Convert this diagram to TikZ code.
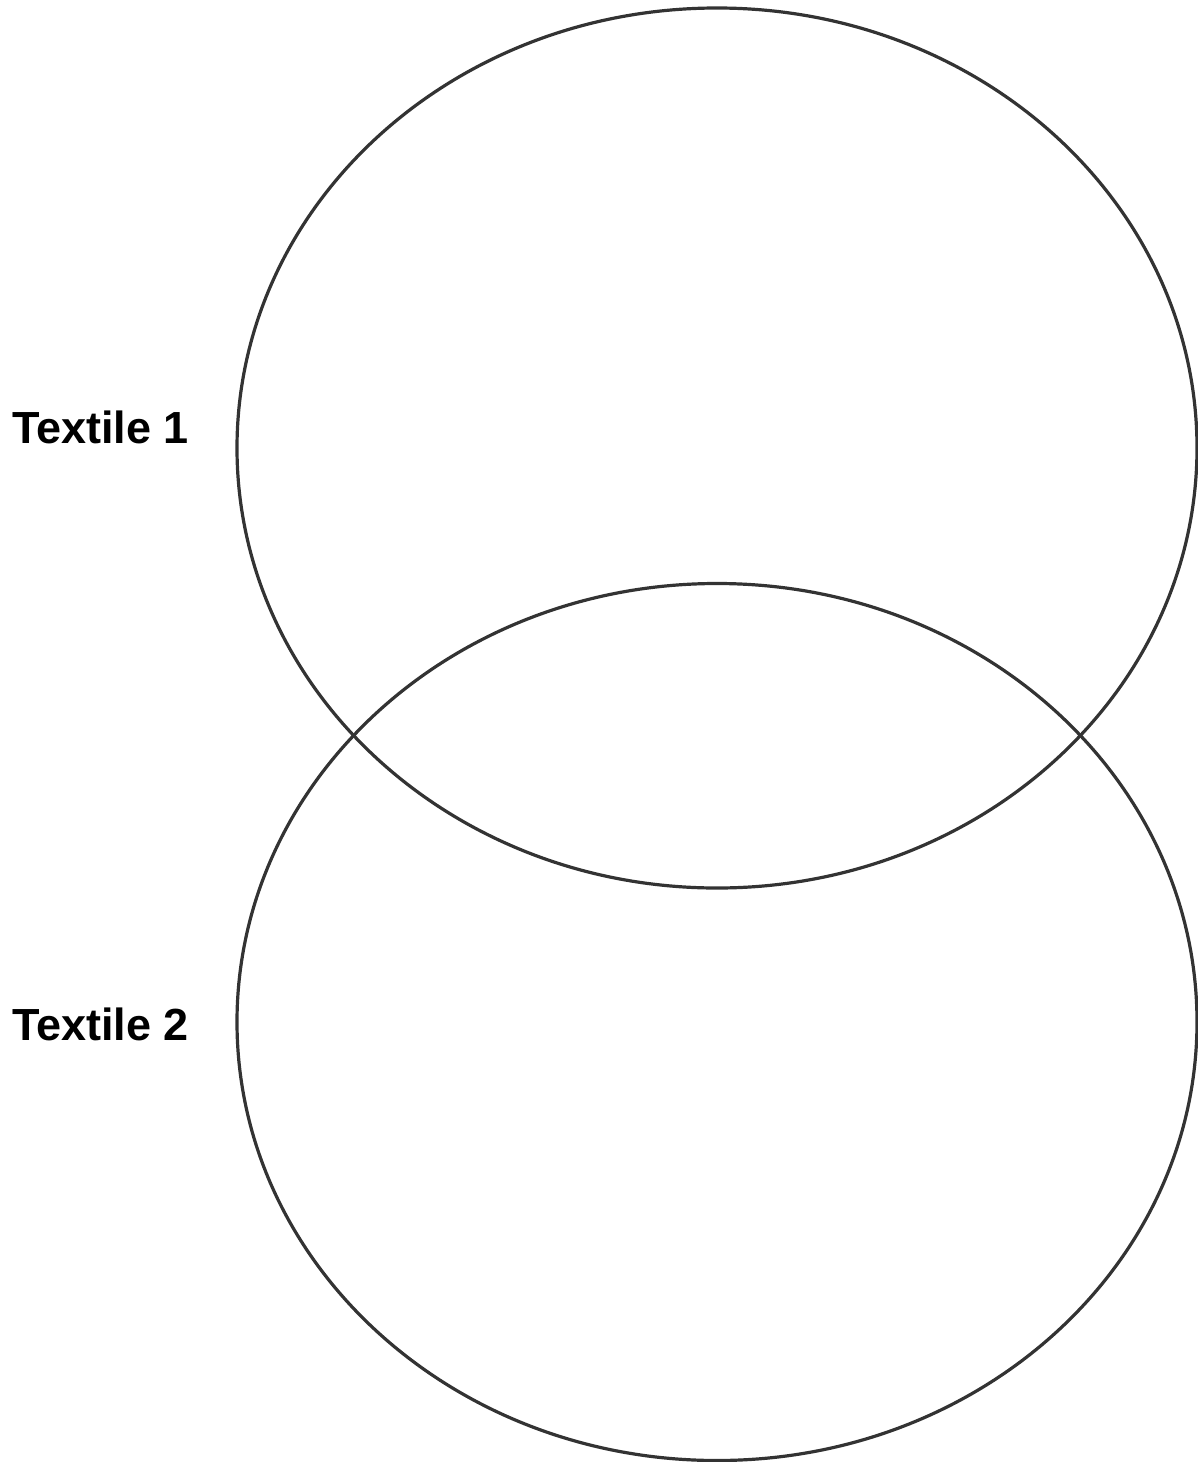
\documentclass[tikz,border=0pt]{standalone}
\usepackage{fontspec}
\setmainfont{Liberation Sans}
\usepackage{xcolor}
\usetikzlibrary{shapes.geometric, positioning}
\definecolor{setline}{HTML}{333333}
\tikzstyle{setring} = [ellipse, minimum width=960pt, minimum height=880pt, draw=setline,
                       line width=3.2pt, inner sep=0pt, outer sep=0pt]
\tikzstyle{setlabel} = [anchor=west, inner sep=0pt, font=\fontsize{45}{52}\selectfont\bfseries]

\begin{document}
\begin{tikzpicture}[x=1pt, y=-1pt]
  \useasboundingbox (0,0) rectangle (1198,1462);
  \node (t1) [setring] at (717,448) {};
  \node (t2) [setring, minimum height=877pt] at (717,1022) {};
  \node (l1) [setlabel] at (12,427) {Textile 1};
  \node (l2) [setlabel] at (12,1024) {Textile 2};
\end{tikzpicture}
\end{document}
